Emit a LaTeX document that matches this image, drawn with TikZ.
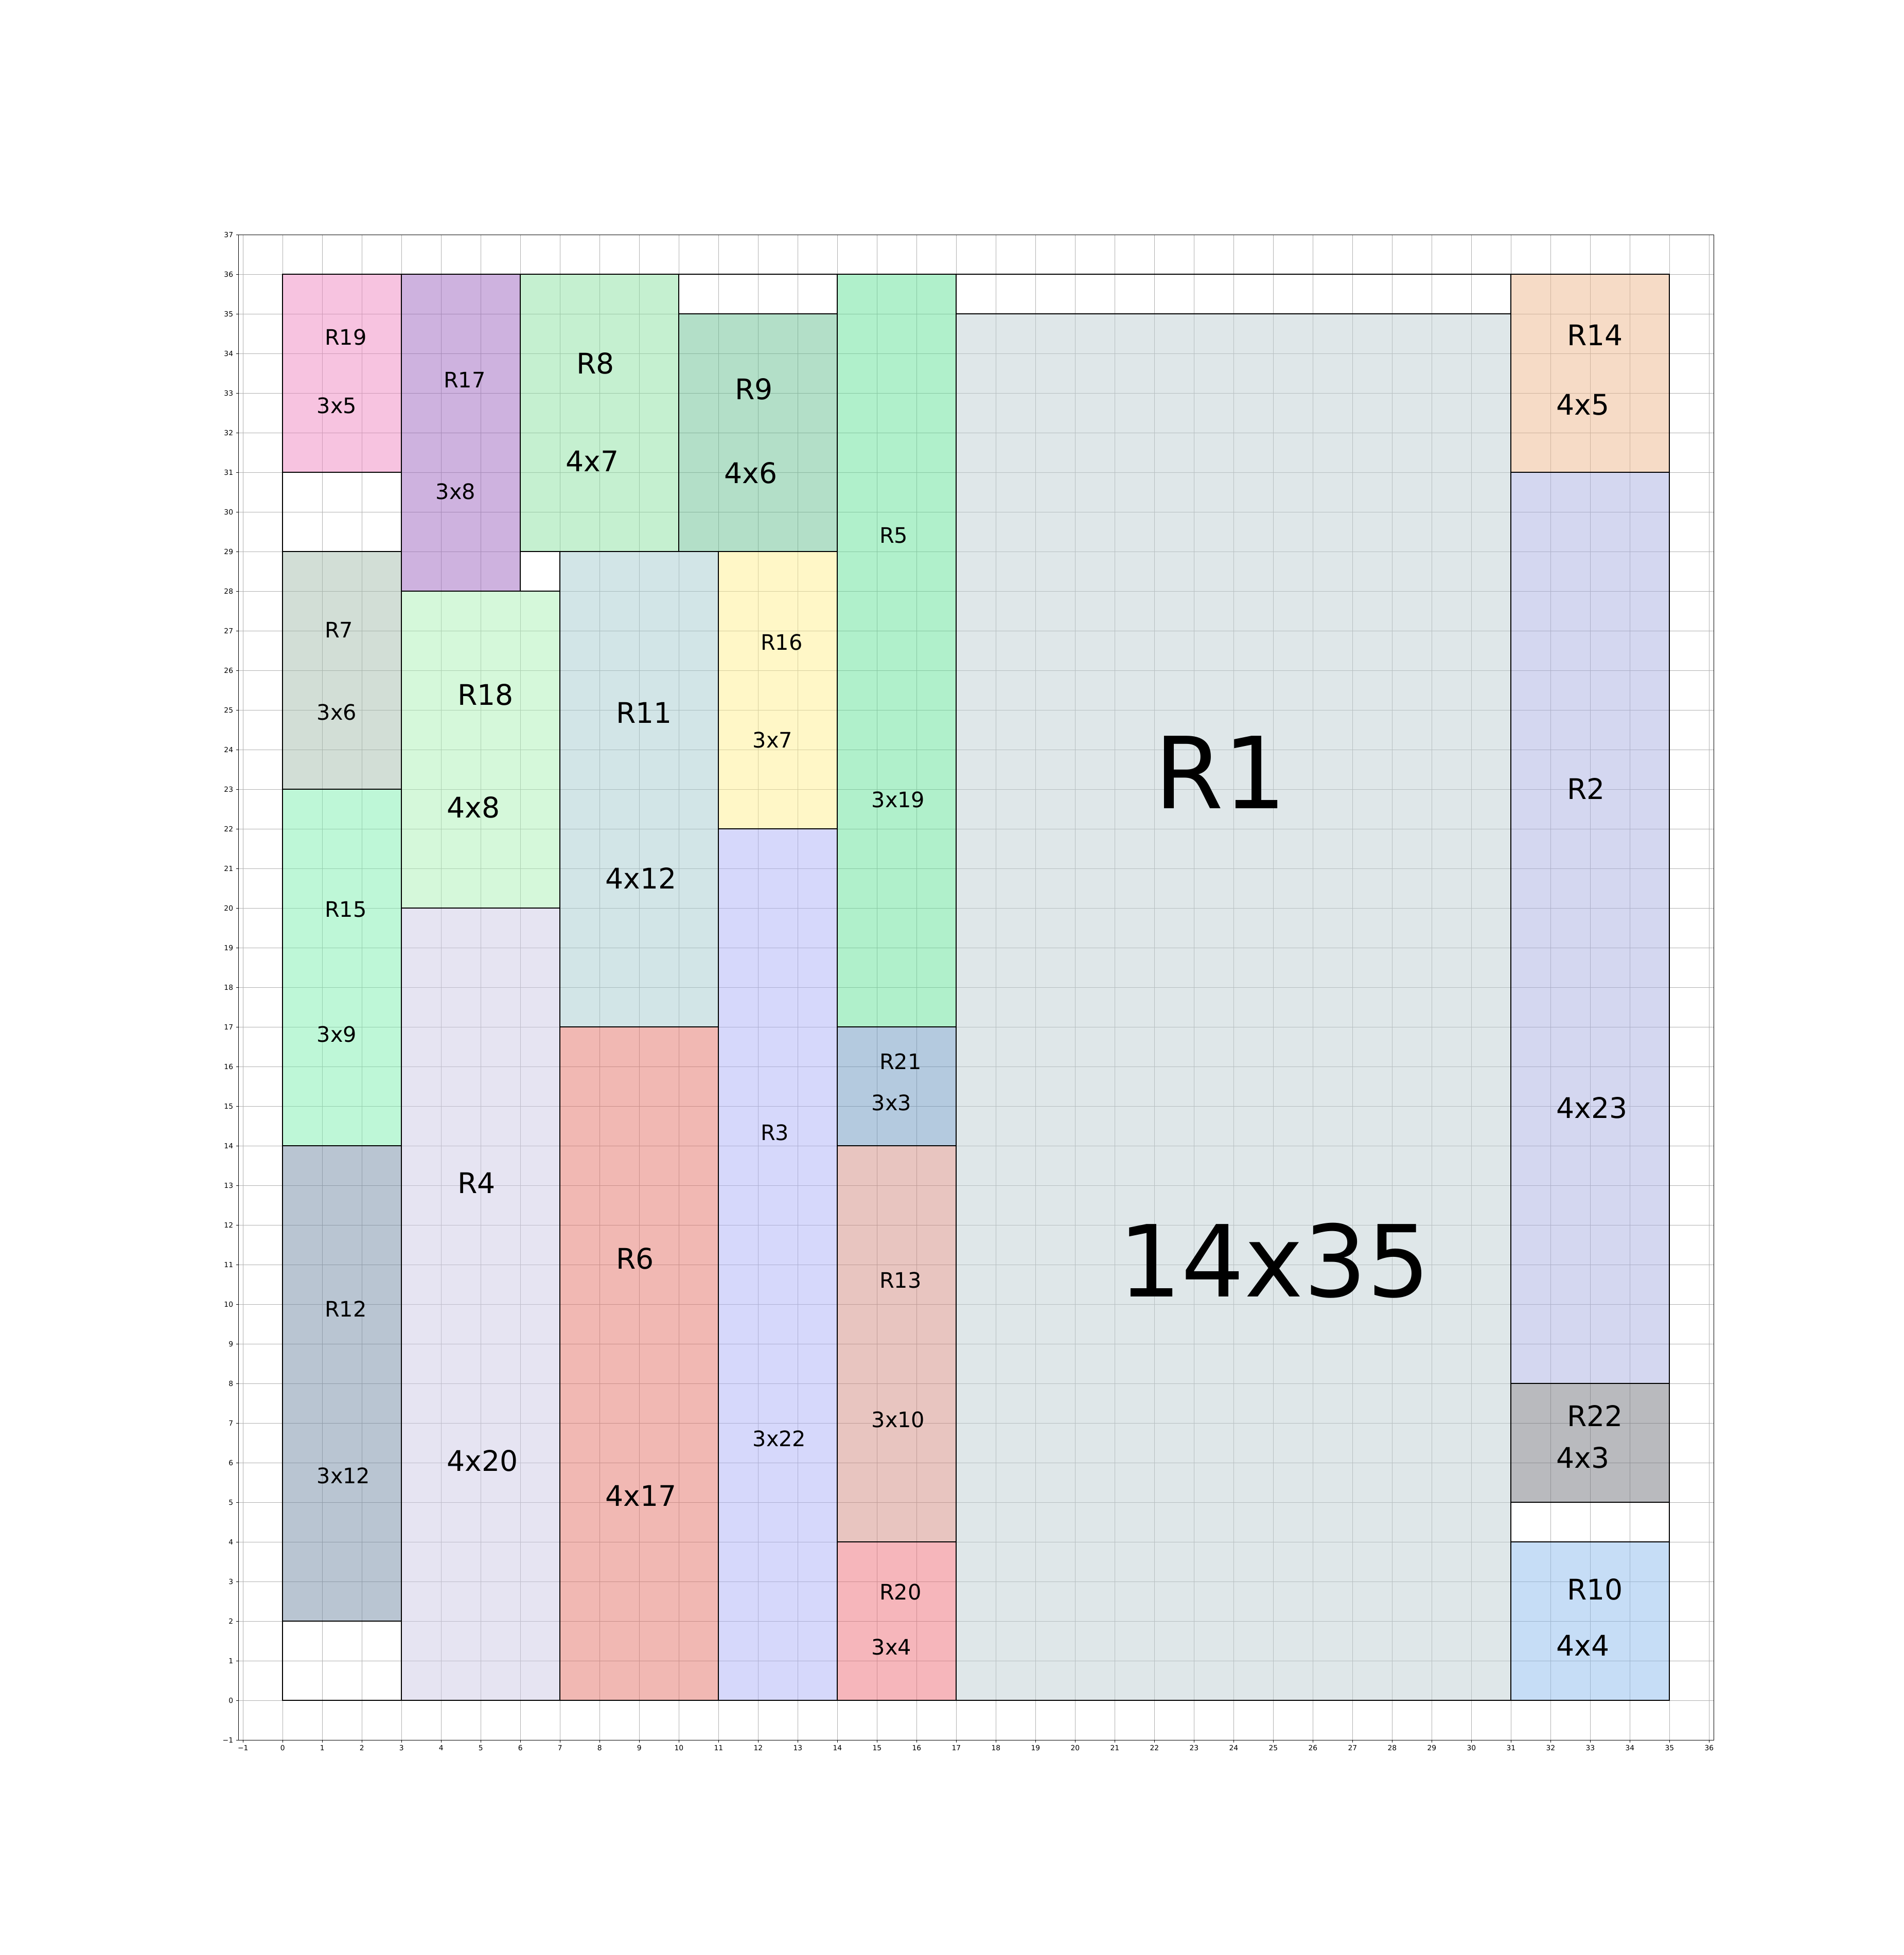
\documentclass[tikz,border=0pt]{standalone}
\usepackage{fontspec}
\newfontfamily\dejavu{DejaVu Sans}

% pastel fills (drawn at half opacity over the grid)
\definecolor{gridgray}{HTML}{B0B0B0}
\definecolor{cR1}{RGB}{191,207,211}
\definecolor{cR2}{RGB}{169,175,225}
\definecolor{cR3}{RGB}{173,177,247}
\definecolor{cR4}{RGB}{205,201,229}
\definecolor{cR5}{RGB}{97,225,151}
\definecolor{cR6}{RGB}{227,113,103}
\definecolor{cR7}{RGB}{165,189,173}
\definecolor{cR8}{RGB}{139,225,161}
\definecolor{cR9}{RGB}{103,191,145}
\definecolor{cR10}{RGB}{141,187,237}
\definecolor{cR11}{RGB}{165,203,207}
\definecolor{cR12}{RGB}{115,139,165}
\definecolor{cR13}{RGB}{209,139,129}
\definecolor{cR14}{RGB}{237,183,141}
\definecolor{cR15}{RGB}{125,239,175}
\definecolor{cR16}{RGB}{255,239,143}
\definecolor{cR17}{RGB}{157,101,191}
\definecolor{cR18}{RGB}{171,241,181}
\definecolor{cR19}{RGB}{239,135,193}
\definecolor{cR20}{RGB}{237,109,119}
\definecolor{cR21}{RGB}{105,149,191}
\definecolor{cR22}{RGB}{115,117,125}

\begin{document}
\begin{tikzpicture}[
    box/.style={anchor=south west, inner sep=0pt, outer sep=0pt, fill opacity=0.5},
    edge/.style={black, line width=0.85pt},
    txtS/.style={anchor=west, inner sep=0pt, font=\dejavu\fontsize{15.3}{18}\selectfont},
    txtM/.style={anchor=west, inner sep=0pt, font=\dejavu\fontsize{20.4}{24}\selectfont},
    txtL/.style={anchor=west, inner sep=0pt, font=\dejavu\fontsize{71.4}{80}\selectfont},
    tick/.style={inner sep=0pt, font=\dejavu\fontsize{5.1}{6}\selectfont}
]

    \useasboundingbox (-7.134,-6.425) rectangle (40.918,42.926);

    % --- Grid ---
    \draw[gridgray, line width=0.4pt] (-1.117,-1) grid (36.117,37);

    % --- Bin and rectangles (fills) ---
    \node[box, minimum width=35cm, minimum height=36cm] (bin) at (0,0) {};

    \node[box, fill=cR19, minimum width=3cm, minimum height=5cm]  (R19) at (0,31) {};
    \node[box, fill=cR7,  minimum width=3cm, minimum height=6cm]  (R7)  at (0,23) {};
    \node[box, fill=cR15, minimum width=3cm, minimum height=9cm]  (R15) at (0,14) {};
    \node[box, fill=cR12, minimum width=3cm, minimum height=12cm] (R12) at (0,2) {};
    \node[box, fill=cR17, minimum width=3cm, minimum height=8cm]  (R17) at (3,28) {};
    \node[box, fill=cR18, minimum width=4cm, minimum height=8cm]  (R18) at (3,20) {};
    \node[box, fill=cR4,  minimum width=4cm, minimum height=20cm] (R4)  at (3,0) {};
    \node[box, fill=cR8,  minimum width=4cm, minimum height=7cm]  (R8)  at (6,29) {};
    \node[box, fill=cR11, minimum width=4cm, minimum height=12cm] (R11) at (7,17) {};
    \node[box, fill=cR6,  minimum width=4cm, minimum height=17cm] (R6)  at (7,0) {};
    \node[box, fill=cR9,  minimum width=4cm, minimum height=6cm]  (R9)  at (10,29) {};
    \node[box, fill=cR16, minimum width=3cm, minimum height=7cm]  (R16) at (11,22) {};
    \node[box, fill=cR3,  minimum width=3cm, minimum height=22cm] (R3)  at (11,0) {};
    \node[box, fill=cR5,  minimum width=3cm, minimum height=19cm] (R5)  at (14,17) {};
    \node[box, fill=cR21, minimum width=3cm, minimum height=3cm]  (R21) at (14,14) {};
    \node[box, fill=cR13, minimum width=3cm, minimum height=10cm] (R13) at (14,4) {};
    \node[box, fill=cR20, minimum width=3cm, minimum height=4cm]  (R20) at (14,0) {};
    \node[box, fill=cR1,  minimum width=14cm, minimum height=35cm] (R1) at (17,0) {};
    \node[box, fill=cR14, minimum width=4cm, minimum height=5cm]  (R14) at (31,31) {};
    \node[box, fill=cR2,  minimum width=4cm, minimum height=23cm] (R2)  at (31,8) {};
    \node[box, fill=cR22, minimum width=4cm, minimum height=3cm]  (R22) at (31,5) {};
    \node[box, fill=cR10, minimum width=4cm, minimum height=4cm]  (R10) at (31,0) {};

    % --- Axes frame ---
    \draw[line width=0.4pt] (-1.117,-1) rectangle (36.117,37);

    % --- Borders ---
    \foreach \r in {bin,R1,R2,R3,R4,R5,R6,R7,R8,R9,R10,R11,R12,R13,R14,R15,R16,R17,R18,R19,R20,R21,R22}
        \draw[edge] (\r.south west) rectangle (\r.north east);

    % --- Ticks ---
    \foreach \i in {-1,...,36} {
        \draw[line width=0.4pt] (\i,-1) -- (\i,-1.06);
        \node[tick, anchor=north] (xt\i) at (\i,-1.126) {\ifnum\i<0 −1\else\i\fi};
    }
    \foreach \j in {-1,...,37} {
        \draw[line width=0.4pt] (-1.117,\j) -- (-1.177,\j);
        \node[tick, anchor=east] (yt\j) at (-1.243,\j) {\ifnum\j<0 −1\else\j\fi};
    }

    % --- Labels ---
    \node[txtS] (R19n) at (1.056,34.42) {R19};
    \node[txtS] (R19d) at (0.855,32.68) {3x5};
    \node[txtS] (R7n)  at (1.056,27.02) {R7};
    \node[txtS] (R7d)  at (0.855,24.94) {3x6};
    \node[txtS] (R15n) at (1.056,19.97) {R15};
    \node[txtS] (R15d) at (0.855,16.82) {3x9};
    \node[txtS] (R12n) at (1.056,9.89) {R12};
    \node[txtS] (R12d) at (0.855,5.67) {3x12};
    \node[txtS] (R17n) at (4.056,33.34) {R17};
    \node[txtS] (R17d) at (3.855,30.52) {3x8};
    \node[txtM] (R18n) at (4.408,25.39) {R18};
    \node[txtM] (R18d) at (4.14,22.55) {4x8};
    \node[txtM] (R4n)  at (4.408,13.07) {R4};
    \node[txtM] (R4d)  at (4.14,6.05) {4x20};
    \node[txtM] (R8n)  at (7.408,33.75) {R8};
    \node[txtM] (R8d)  at (7.14,31.29) {4x7};
    \node[txtM] (R11n) at (8.408,24.94) {R11};
    \node[txtM] (R11d) at (8.14,20.76) {4x12};
    \node[txtM] (R6n)  at (8.408,11.15) {R6};
    \node[txtM] (R6d)  at (8.14,5.17) {4x17};
    \node[txtM] (R9n)  at (11.408,33.10) {R9};
    \node[txtM] (R9d)  at (11.14,30.99) {4x6};
    \node[txtS] (R16n) at (12.056,26.71) {R16};
    \node[txtS] (R16d) at (11.855,24.25) {3x7};
    \node[txtS] (R3n)  at (12.056,14.33) {R3};
    \node[txtS] (R3d)  at (11.855,6.61) {3x22};
    \node[txtS] (R5n)  at (15.056,29.41) {R5};
    \node[txtS] (R5d)  at (14.855,22.74) {3x19};
    \node[txtS] (R21n) at (15.056,16.13) {R21};
    \node[txtS] (R21d) at (14.855,15.09) {3x3};
    \node[txtS] (R13n) at (15.056,10.61) {R13};
    \node[txtS] (R13d) at (14.855,7.09) {3x10};
    \node[txtS] (R20n) at (15.056,2.74) {R20};
    \node[txtS] (R20d) at (14.855,1.35) {3x4};
    \node[txtL] (R1n)  at (21.99,23.43) {R1};
    \node[txtL] (R1d)  at (21.08,11.1) {14x35};
    \node[txtM] (R14n) at (32.408,34.46) {R14};
    \node[txtM] (R14d) at (32.14,32.71) {4x5};
    \node[txtM] (R2n)  at (32.408,23.02) {R2};
    \node[txtM] (R2d)  at (32.14,14.96) {4x23};
    \node[txtM] (R22n) at (32.408,7.18) {R22};
    \node[txtM] (R22d) at (32.14,6.13) {4x3};
    \node[txtM] (R10n) at (32.408,2.80) {R10};
    \node[txtM] (R10d) at (32.14,1.39) {4x4};

\end{tikzpicture}
\end{document}
